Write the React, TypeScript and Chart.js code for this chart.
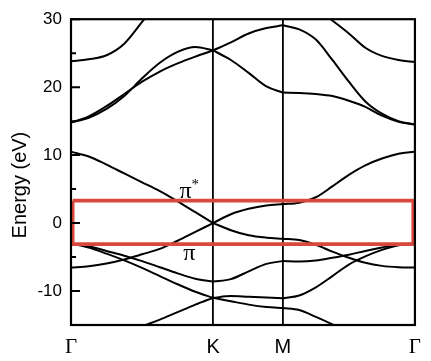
import React, { useEffect, useRef } from 'react';
import { Chart, registerables } from 'chart.js';

Chart.register(...registerables);

// High-symmetry points (path Γ–K–M–Γ) and their labels
const kTicks = [0, 1, 1.49, 2.42];
const kLabels = ['Γ', 'K', 'M', 'Γ'];

// Energy axis ticks
const yTicks = [-10, 0, 10, 20, 30];
const yMinorTicks = [-5, 5, 15, 25];
const yTitle = 'Energy (eV)';

// Sample positions along each segment of the path
const kGammaK = [0, 0.125, 0.25, 0.375, 0.5, 0.625, 0.75, 0.875, 1.0];
const kKM = [1.0, 1.125, 1.25, 1.375, 1.49];
const kMGamma = [1.49, 1.606, 1.723, 1.839, 1.955, 2.071, 2.188, 2.304, 2.42];

// Γ–K bands (eV)
const gkTop = [23.8, 24.1, 24.7, 26.4, 29.6, 33.0, null, null, null];
const gkUpperS = [14.8, 15.5, 16.8, 18.7, 21.3, 23.6, 25.2, 25.9, 25.4];
const gkUpperL = [14.8, 15.7, 17.2, 19.0, 20.8, 22.3, 23.5, 24.5, 25.4];
const gkPiStar = [10.5, 9.8, 8.6, 7.3, 6.0, 4.7, 3.2, 1.6, 0];
const gkPi = [-6.55, -6.35, -5.95, -5.35, -4.6, -3.8, -2.6, -1.3, 0];
const gkSigmaA = [-3.0, -3.4, -4.1, -4.8, -5.6, -6.5, -7.4, -8.2, -8.6];
const gkSigmaB = [-3.0, -3.6, -4.5, -5.5, -6.6, -7.8, -9.0, -10.1, -11.0];
const gkLowest = [null, null, null, -16.3, -15.2, -14.2, -13.1, -12.0, -11.0];

// K–M bands (eV)
const kmUpper = [25.4, 26.6, 27.9, 28.7, 29.1];
const kmLower = [25.4, 24.0, 22.1, 20.1, 19.2];
const kmPiStar = [0, 1.3, 2.1, 2.6, 2.8];
const kmPi = [0, -1.05, -1.8, -2.15, -2.3];
const kmSigmaA = [-8.6, -8.25, -7.1, -6.0, -5.6];
const kmSigmaB = [-11.0, -10.75, -10.85, -10.95, -11.05];
const kmLowest = [-11.0, -11.5, -12.0, -12.35, -12.5];

// M–Γ bands (eV)
const mgUpper = [29.1, 28.5, 27.0, 24.0, 20.8, 17.9, 16.1, 15.0, 14.5];
const mgLower = [19.2, 19.15, 19.0, 18.7, 18.0, 17.1, 15.8, 14.9, 14.5];
const mgTop = [null, null, 31.7, 29.8, 27.9, 25.8, 24.6, 24.0, 23.7];
const mgPiStar = [2.8, 3.0, 3.8, 5.4, 7.1, 8.5, 9.5, 10.2, 10.5];
const mgPi = [-2.3, -2.5, -3.2, -4.2, -5.1, -5.85, -6.3, -6.5, -6.55];
const mgSigmaA = [-5.6, -5.65, -5.5, -5.1, -4.65, -4.1, -3.6, -3.15, -3.0];
const mgSigmaB = [-11.05, -10.65, -9.45, -7.8, -6.1, -4.9, -3.95, -3.25, -3.0];
const mgLowest = [-12.5, -12.8, -13.8, -14.9, -16.2, null, null, null, null];

// Highlight box around the Fermi level
const boxK = [0.012, 2.408];
const boxE = [3.3, -3.1];

// Band annotations
const annoText = ['π', 'π'];
const annoSup = ['*', ''];
const annoK = [0.806, 0.833];
const annoE = [4.6, -4.46];

const segments = [
  { k: kGammaK, bands: [gkTop, gkUpperS, gkUpperL, gkPiStar, gkPi, gkSigmaA, gkSigmaB, gkLowest] },
  { k: kKM, bands: [kmUpper, kmLower, kmPiStar, kmPi, kmSigmaA, kmSigmaB, kmLowest] },
  { k: kMGamma, bands: [mgUpper, mgLower, mgTop, mgPiStar, mgPi, mgSigmaA, mgSigmaB, mgLowest] },
];

const decorPlugin = {
  id: 'decor',
  afterDatasetsDraw(chart: any) {
    const { ctx, chartArea: a, scales } = chart;
    const x = scales.x;
    const y = scales.y;
    ctx.save();
    // frame
    ctx.strokeStyle = '#000';
    ctx.lineWidth = 2.2;
    ctx.strokeRect(a.left, a.top, a.right - a.left, a.bottom - a.top);
    // inward ticks
    ctx.lineWidth = 2;
    ctx.beginPath();
    yTicks.forEach((v) => {
      const py = y.getPixelForValue(v);
      ctx.moveTo(a.left, py);
      ctx.lineTo(a.left + 9, py);
    });
    yMinorTicks.forEach((v) => {
      const py = y.getPixelForValue(v);
      ctx.moveTo(a.left, py);
      ctx.lineTo(a.left + 5, py);
    });
    ctx.stroke();
    // band annotations
    ctx.fillStyle = '#000';
    ctx.textBaseline = 'middle';
    ctx.textAlign = 'center';
    annoText.forEach((t, i) => {
      const px = x.getPixelForValue(annoK[i]);
      const py = y.getPixelForValue(annoE[i]);
      ctx.font = '24px "Liberation Serif", "DejaVu Serif", serif';
      ctx.fillText(t, px, py);
      if (annoSup[i]) {
        const w = ctx.measureText(t).width;
        ctx.font = '15px "Liberation Serif", "DejaVu Serif", serif';
        ctx.textAlign = 'left';
        ctx.fillText(annoSup[i], px + w / 2, py - 7);
        ctx.textAlign = 'center';
      }
    });
    // y-axis title
    ctx.font = '20px "Liberation Sans", Arial, sans-serif';
    ctx.translate(20, (a.top + a.bottom) / 2 + 13);
    ctx.rotate(-Math.PI / 2);
    ctx.textAlign = 'center';
    ctx.textBaseline = 'middle';
    ctx.fillText(yTitle, 0, 0);
    ctx.restore();
  },
};

export default function App() {
  const ref = useRef<HTMLCanvasElement>(null);

  useEffect(() => {
    const datasets: any[] = [];
    datasets.push({
      data: [
        { x: boxK[0], y: boxE[0] },
        { x: boxK[1], y: boxE[0] },
        { x: boxK[1], y: boxE[1] },
        { x: boxK[0], y: boxE[1] },
        { x: boxK[0], y: boxE[0] },
      ],
      borderColor: 'rgb(217,72,60)',
      borderWidth: 3.6,
      borderJoinStyle: 'miter',
      tension: 0,
      pointRadius: 0,
      fill: false,
    });
    segments.forEach((seg) =>
      seg.bands.forEach((b) => {
        const pts = seg.k
          .map((kx, i) => ({ x: kx, y: b[i] }))
          .filter((p) => p.y !== null);
        datasets.push({
          data: pts,
          borderColor: '#000',
          borderWidth: 2,
          pointRadius: 0,
          cubicInterpolationMode: 'monotone',
          fill: false,
        });
      })
    );

    const chart = new Chart(ref.current as HTMLCanvasElement, {
      type: 'line',
      data: { datasets },
      options: {
        responsive: false,
        animation: false,
        events: [],
        layout: { padding: { left: 0, top: 12, right: 11.5, bottom: 0 } },
        plugins: { legend: { display: false }, tooltip: { enabled: false } },
        scales: {
          x: {
            type: 'linear',
            min: 0,
            max: 2.42,
            afterBuildTicks: (s: any) => {
              s.ticks = kTicks.map((v) => ({ value: v }));
            },
            afterFit: (s: any) => {
              s.height = 36;
            },
            ticks: {
              autoSkip: false,
              maxRotation: 0,
              padding: 10,
              color: '#000',
              callback: (_v: any, i: number) => kLabels[i],
              font: (c: any) =>
                c.index === 1 || c.index === 2
                  ? { family: '"Liberation Sans", Arial, sans-serif', size: 20 }
                  : { family: '"Liberation Serif", "DejaVu Serif", serif', size: 21 },
            },
            grid: { color: '#000', lineWidth: 1.8, drawTicks: false },
            border: { display: false },
          },
          y: {
            type: 'linear',
            min: -15,
            max: 30,
            afterBuildTicks: (s: any) => {
              s.ticks = yTicks.map((v) => ({ value: v }));
            },
            afterFit: (s: any) => {
              s.width = 71;
            },
            ticks: {
              padding: 9,
              color: '#000',
              font: { family: '"Liberation Sans", Arial, sans-serif', size: 17 },
            },
            grid: { display: false, drawTicks: false },
            border: { display: false },
          },
        },
      },
      plugins: [decorPlugin],
    } as any);
    return () => chart.destroy();
  }, []);

  return (
    <div style={{ position: 'absolute', left: 0, top: 0, width: 431, height: 361, background: '#fff' }}>
      <canvas ref={ref} width={431} height={361} style={{ display: 'block' }} />
    </div>
  );
}
